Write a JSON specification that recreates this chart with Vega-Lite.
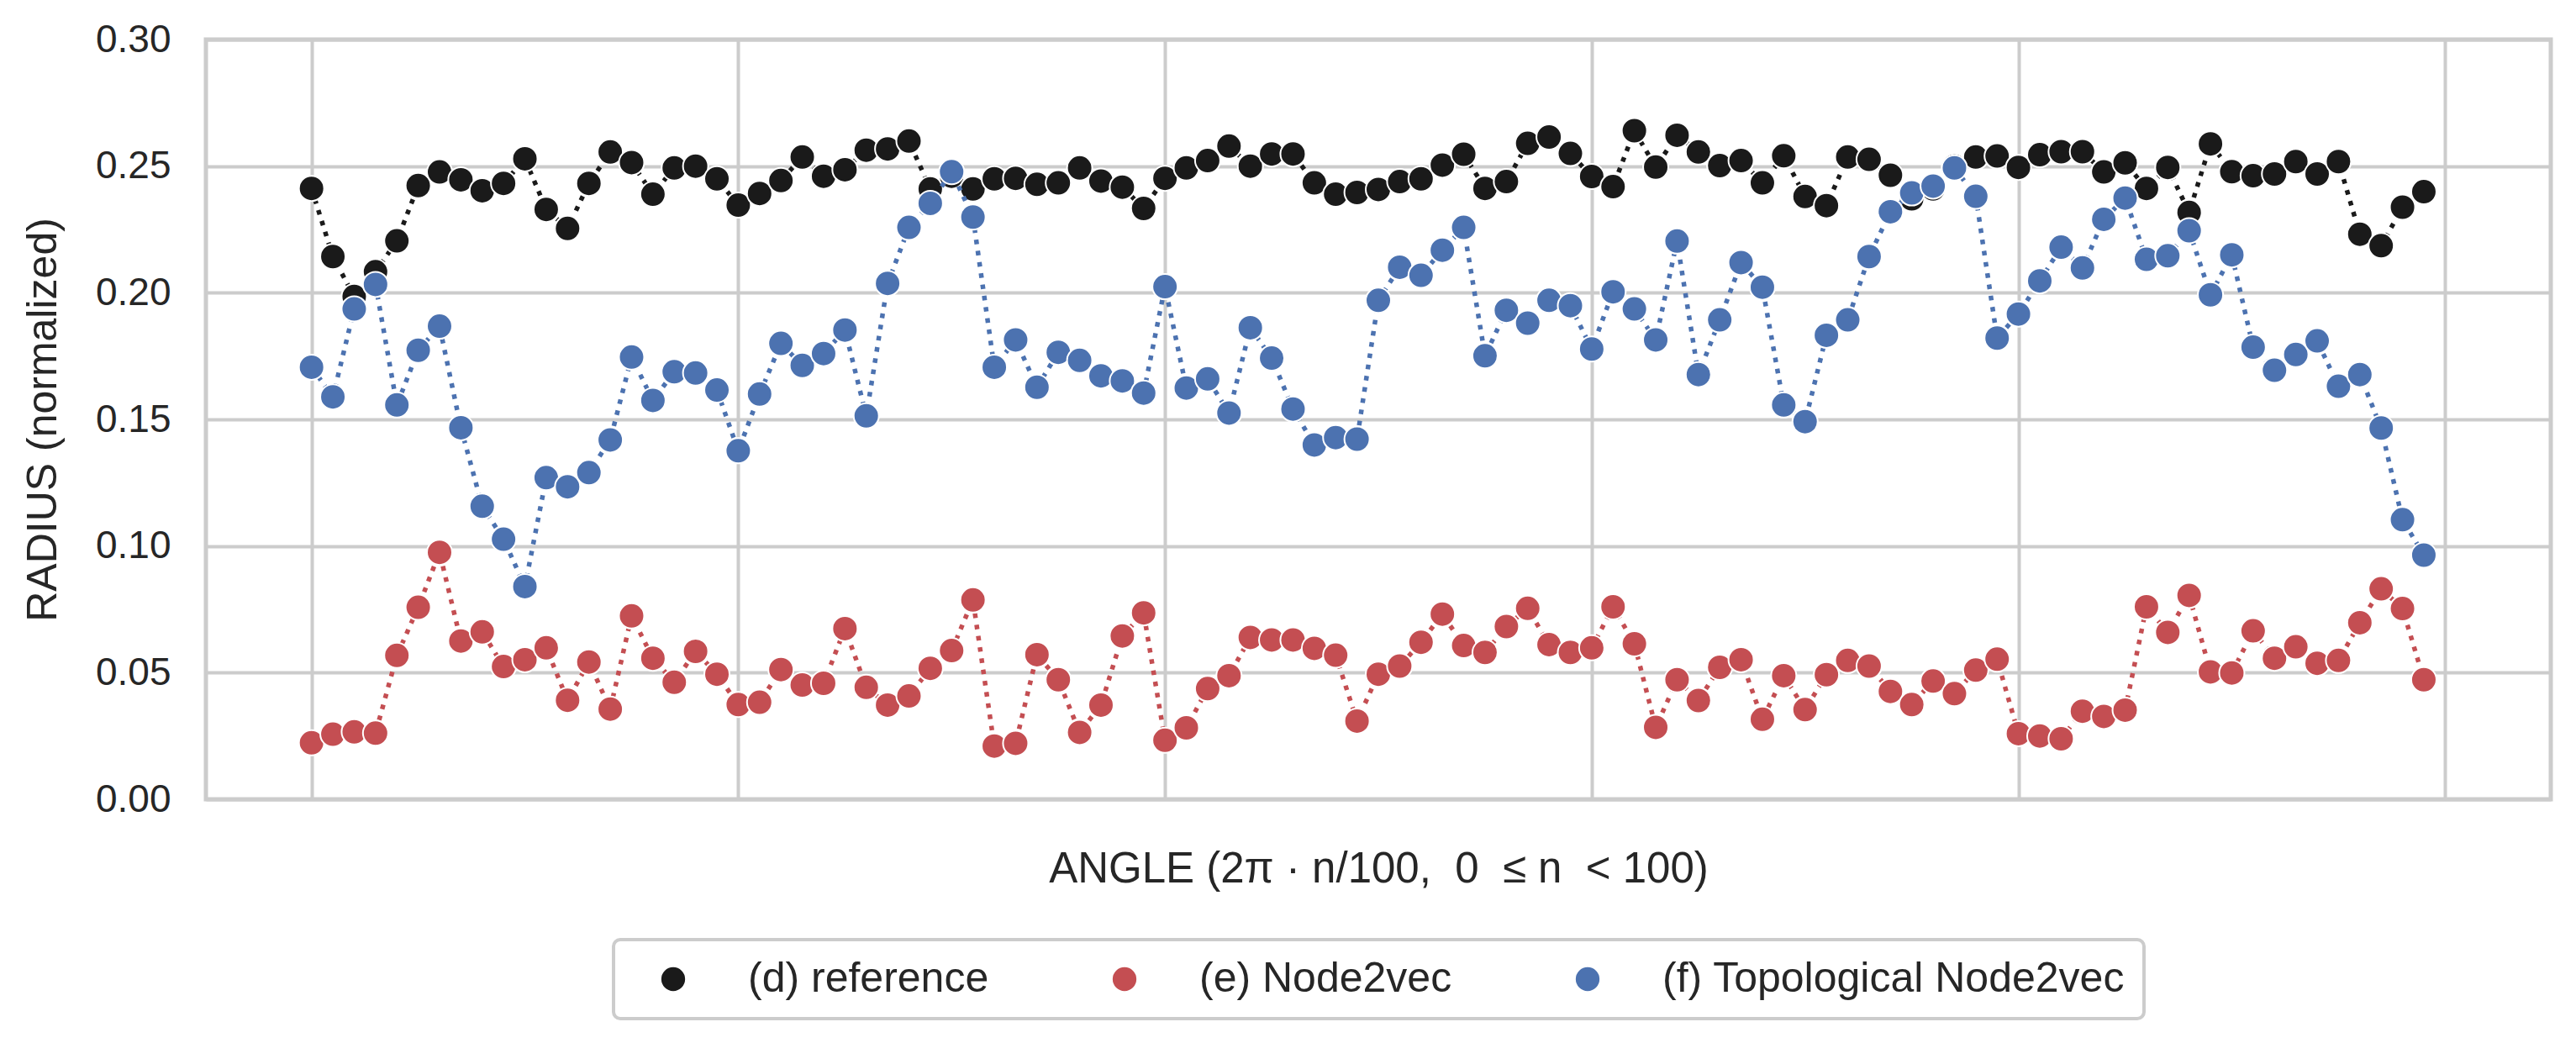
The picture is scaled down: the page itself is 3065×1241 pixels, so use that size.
{
  "$schema": "https://vega.github.io/schema/vega-lite/v6.json",
  "width": 2790,
  "height": 904,
  "autosize": {"type": "none"},
  "padding": {"left": 245, "top": 47, "right": 30, "bottom": 290},
  "background": "white",
  "datasets": {
    "ref": [
      {"n":0,"r":0.2412},{"n":1,"r":0.2143},{"n":2,"r":0.1985},{"n":3,"r":0.2083},{"n":4,"r":0.2205},{"n":5,"r":0.2423},{"n":6,"r":0.2477},{"n":7,"r":0.2446},{"n":8,"r":0.2403},{"n":9,"r":0.2432},
      {"n":10,"r":0.2529},{"n":11,"r":0.2329},{"n":12,"r":0.2254},{"n":13,"r":0.2432},{"n":14,"r":0.2556},{"n":15,"r":0.2514},{"n":16,"r":0.2389},{"n":17,"r":0.2493},{"n":18,"r":0.2500},{"n":19,"r":0.2450},
      {"n":20,"r":0.2346},{"n":21,"r":0.2392},{"n":22,"r":0.2443},{"n":23,"r":0.2536},{"n":24,"r":0.2460},{"n":25,"r":0.2486},{"n":26,"r":0.2563},{"n":27,"r":0.2568},{"n":28,"r":0.2599},{"n":29,"r":0.2410},
      {"n":30,"r":0.2460},{"n":31,"r":0.2410},{"n":32,"r":0.2450},{"n":33,"r":0.2452},{"n":34,"r":0.2428},{"n":35,"r":0.2434},{"n":36,"r":0.2493},{"n":37,"r":0.2441},{"n":38,"r":0.2417},{"n":39,"r":0.2333},
      {"n":40,"r":0.2452},{"n":41,"r":0.2493},{"n":42,"r":0.2522},{"n":43,"r":0.2579},{"n":44,"r":0.2500},{"n":45,"r":0.2548},{"n":46,"r":0.2548},{"n":47,"r":0.2434},{"n":48,"r":0.2389},{"n":49,"r":0.2396},
      {"n":50,"r":0.2408},{"n":51,"r":0.2439},{"n":52,"r":0.2450},{"n":53,"r":0.2504},{"n":54,"r":0.2547},{"n":55,"r":0.2412},{"n":56,"r":0.2439},{"n":57,"r":0.2590},{"n":58,"r":0.2615},{"n":59,"r":0.2550},
      {"n":60,"r":0.2459},{"n":61,"r":0.2419},{"n":62,"r":0.2640},{"n":63,"r":0.2496},{"n":64,"r":0.2622},{"n":65,"r":0.2556},{"n":66,"r":0.2502},{"n":67,"r":0.2522},{"n":68,"r":0.2434},{"n":69,"r":0.2541},
      {"n":70,"r":0.2380},{"n":71,"r":0.2344},{"n":72,"r":0.2536},{"n":73,"r":0.2527},{"n":74,"r":0.2464},{"n":75,"r":0.2371},{"n":76,"r":0.2410},{"n":77,"r":0.2500},{"n":78,"r":0.2536},{"n":79,"r":0.2540},
      {"n":80,"r":0.2495},{"n":81,"r":0.2545},{"n":82,"r":0.2557},{"n":83,"r":0.2557},{"n":84,"r":0.2477},{"n":85,"r":0.2513},{"n":86,"r":0.2412},{"n":87,"r":0.2495},{"n":88,"r":0.2317},{"n":89,"r":0.2588},
      {"n":90,"r":0.2478},{"n":91,"r":0.2462},{"n":92,"r":0.2469},{"n":93,"r":0.2518},{"n":94,"r":0.2469},{"n":95,"r":0.2518},{"n":96,"r":0.2231},{"n":97,"r":0.2186},{"n":98,"r":0.2338},{"n":99,"r":0.2399}
    ],
    "n2v": [
      {"n":0,"r":0.0223},{"n":1,"r":0.0257},{"n":2,"r":0.0266},{"n":3,"r":0.0261},{"n":4,"r":0.0568},{"n":5,"r":0.0758},{"n":6,"r":0.0975},{"n":7,"r":0.0625},{"n":8,"r":0.0661},{"n":9,"r":0.0524},
      {"n":10,"r":0.0551},{"n":11,"r":0.0598},{"n":12,"r":0.0391},{"n":13,"r":0.0542},{"n":14,"r":0.0356},{"n":15,"r":0.0724},{"n":16,"r":0.0557},{"n":17,"r":0.0462},{"n":18,"r":0.0584},{"n":19,"r":0.0494},
      {"n":20,"r":0.0374},{"n":21,"r":0.0383},{"n":22,"r":0.0512},{"n":23,"r":0.0451},{"n":24,"r":0.0458},{"n":25,"r":0.0674},{"n":26,"r":0.0442},{"n":27,"r":0.0372},{"n":28,"r":0.0408},{"n":29,"r":0.0517},
      {"n":30,"r":0.0587},{"n":31,"r":0.0787},{"n":32,"r":0.0210},{"n":33,"r":0.0221},{"n":34,"r":0.0571},{"n":35,"r":0.0472},{"n":36,"r":0.0264},{"n":37,"r":0.0372},{"n":38,"r":0.0645},{"n":39,"r":0.0736},
      {"n":40,"r":0.0233},{"n":41,"r":0.0282},{"n":42,"r":0.0437},{"n":43,"r":0.0488},{"n":44,"r":0.0639},{"n":45,"r":0.0629},{"n":46,"r":0.0629},{"n":47,"r":0.0596},{"n":48,"r":0.0569},{"n":49,"r":0.0309},
      {"n":50,"r":0.0494},{"n":51,"r":0.0526},{"n":52,"r":0.0620},{"n":53,"r":0.0731},{"n":54,"r":0.0607},{"n":55,"r":0.0580},{"n":56,"r":0.0682},{"n":57,"r":0.0754},{"n":58,"r":0.0611},{"n":59,"r":0.0580},
      {"n":60,"r":0.0598},{"n":61,"r":0.0760},{"n":62,"r":0.0614},{"n":63,"r":0.0284},{"n":64,"r":0.0472},{"n":65,"r":0.0390},{"n":66,"r":0.0521},{"n":67,"r":0.0551},{"n":68,"r":0.0316},{"n":69,"r":0.0488},
      {"n":70,"r":0.0354},{"n":71,"r":0.0492},{"n":72,"r":0.0548},{"n":73,"r":0.0526},{"n":74,"r":0.0426},{"n":75,"r":0.0374},{"n":76,"r":0.0467},{"n":77,"r":0.0417},{"n":78,"r":0.0510},{"n":79,"r":0.0553},
      {"n":80,"r":0.0259},{"n":81,"r":0.0250},{"n":82,"r":0.0239},{"n":83,"r":0.0348},{"n":84,"r":0.0327},{"n":85,"r":0.0352},{"n":86,"r":0.0760},{"n":87,"r":0.0659},{"n":88,"r":0.0805},{"n":89,"r":0.0503},
      {"n":90,"r":0.0499},{"n":91,"r":0.0665},{"n":92,"r":0.0557},{"n":93,"r":0.0602},{"n":94,"r":0.0537},{"n":95,"r":0.0548},{"n":96,"r":0.0697},{"n":97,"r":0.0831},{"n":98,"r":0.0753},{"n":99,"r":0.0472}
    ],
    "topo": [
      {"n":0,"r":0.1706},{"n":1,"r":0.1589},{"n":2,"r":0.1936},{"n":3,"r":0.2033},{"n":4,"r":0.1557},{"n":5,"r":0.1773},{"n":6,"r":0.1868},{"n":7,"r":0.1467},{"n":8,"r":0.1157},{"n":9,"r":0.1027},
      {"n":10,"r":0.0840},{"n":11,"r":0.1270},{"n":12,"r":0.1234},{"n":13,"r":0.1290},{"n":14,"r":0.1419},{"n":15,"r":0.1746},{"n":16,"r":0.1575},{"n":17,"r":0.1688},{"n":18,"r":0.1683},{"n":19,"r":0.1616},
      {"n":20,"r":0.1376},{"n":21,"r":0.1600},{"n":22,"r":0.1800},{"n":23,"r":0.1713},{"n":24,"r":0.1760},{"n":25,"r":0.1853},{"n":26,"r":0.1514},{"n":27,"r":0.2037},{"n":28,"r":0.2258},{"n":29,"r":0.2353},
      {"n":30,"r":0.2478},{"n":31,"r":0.2299},{"n":32,"r":0.1706},{"n":33,"r":0.1814},{"n":34,"r":0.1627},{"n":35,"r":0.1765},{"n":36,"r":0.1733},{"n":37,"r":0.1672},{"n":38,"r":0.1652},{"n":39,"r":0.1604},
      {"n":40,"r":0.2024},{"n":41,"r":0.1624},{"n":42,"r":0.1660},{"n":43,"r":0.1525},{"n":44,"r":0.1862},{"n":45,"r":0.1742},{"n":46,"r":0.1541},{"n":47,"r":0.1399},{"n":48,"r":0.1428},{"n":49,"r":0.1422},
      {"n":50,"r":0.1970},{"n":51,"r":0.2101},{"n":52,"r":0.2069},{"n":53,"r":0.2168},{"n":54,"r":0.2258},{"n":55,"r":0.1751},{"n":56,"r":0.1931},{"n":57,"r":0.1880},{"n":58,"r":0.1970},{"n":59,"r":0.1949},
      {"n":60,"r":0.1778},{"n":61,"r":0.2004},{"n":62,"r":0.1936},{"n":63,"r":0.1814},{"n":64,"r":0.2204},{"n":65,"r":0.1677},{"n":66,"r":0.1893},{"n":67,"r":0.2119},{"n":68,"r":0.2022},{"n":69,"r":0.1557},
      {"n":70,"r":0.1491},{"n":71,"r":0.1832},{"n":72,"r":0.1893},{"n":73,"r":0.2143},{"n":74,"r":0.2320},{"n":75,"r":0.2394},{"n":76,"r":0.2421},{"n":77,"r":0.2493},{"n":78,"r":0.2381},{"n":79,"r":0.1821},
      {"n":80,"r":0.1916},{"n":81,"r":0.2047},{"n":82,"r":0.2180},{"n":83,"r":0.2098},{"n":84,"r":0.2290},{"n":85,"r":0.2374},{"n":86,"r":0.2132},{"n":87,"r":0.2146},{"n":88,"r":0.2245},{"n":89,"r":0.1992},
      {"n":90,"r":0.2150},{"n":91,"r":0.1785},{"n":92,"r":0.1694},{"n":93,"r":0.1756},{"n":94,"r":0.1810},{"n":95,"r":0.1631},{"n":96,"r":0.1677},{"n":97,"r":0.1466},{"n":98,"r":0.1104},{"n":99,"r":0.0964}
    ]
  },
  "encoding": {
    "x": {
      "field": "n", "type": "quantitative",
      "scale": {"domain": [-4.95, 104.95], "nice": false, "zero": false},
      "axis": {
        "values": [0, 20, 40, 60, 80, 100],
        "labels": false, "ticks": false, "domain": false,
        "title": "ANGLE (2π · n/100,\u00a0 0\u00a0 ≤ n\u00a0 < 100)",
        "titleFontSize": 51, "titlePadding": 58
      }
    },
    "y": {
      "field": "r", "type": "quantitative",
      "scale": {"domain": [0, 0.3], "nice": false, "zero": true},
      "axis": {
        "values": [0, 0.05, 0.1, 0.15, 0.2, 0.25, 0.3],
        "format": ".2f",
        "ticks": false, "domain": false,
        "labelFontSize": 46, "labelPadding": 42,
        "title": "RADIUS (normalized)",
        "titleFontSize": 50, "titlePadding": 37
      }
    }
  },
  "layer": [
    {"data": {"name": "ref"}, "mark": {"type": "line", "color": "#1a1a1a", "strokeWidth": 5.5, "strokeDash": [5.5, 8], "strokeCap": "butt"}},
    {"data": {"name": "ref"}, "mark": {"type": "point", "filled": true, "size": 900, "stroke": "white", "strokeWidth": 2, "opacity": 1},
     "encoding": {"color": {"datum": "(d) reference", "type": "nominal"}}},
    {"data": {"name": "n2v"}, "mark": {"type": "line", "color": "#c44e52", "strokeWidth": 5.5, "strokeDash": [5.5, 8], "strokeCap": "butt"}},
    {"data": {"name": "n2v"}, "mark": {"type": "point", "filled": true, "size": 900, "stroke": "white", "strokeWidth": 2, "opacity": 1},
     "encoding": {"color": {"datum": "(e) Node2vec", "type": "nominal"}}},
    {"data": {"name": "topo"}, "mark": {"type": "line", "color": "#4c72b0", "strokeWidth": 5.5, "strokeDash": [5.5, 8], "strokeCap": "butt"}},
    {"data": {"name": "topo"}, "mark": {"type": "point", "filled": true, "size": 900, "stroke": "white", "strokeWidth": 2, "opacity": 1},
     "encoding": {"color": {
       "datum": "(f) Topological Node2vec", "type": "nominal",
       "scale": {"domain": ["(d) reference", "(e) Node2vec", "(f) Topological Node2vec"], "range": ["#1a1a1a", "#c44e52", "#4c72b0"]},
       "legend": {
         "title": null, "orient": "none", "legendX": 485, "legendY": 1071,
         "direction": "horizontal", "padding": 22,
         "strokeColor": "#cccccc", "fillColor": "white", "cornerRadius": 8,
         "symbolType": "circle", "symbolSize": 800, "symbolStrokeWidth": 0, "symbolOpacity": 1,
         "symbolOffset": 24, "labelOffset": 64, "columnPadding": 112,
         "labelFontSize": 50, "labelFont": "Liberation Sans", "labelColor": "#262626", "labelLimit": 0
       }
     }}}
  ],
  "config": {
    "view": {"stroke": "#cccccc", "strokeWidth": 5},
    "axis": {
      "gridColor": "#cccccc", "gridWidth": 4, "gridOpacity": 1,
      "labelFont": "Liberation Sans", "titleFont": "Liberation Sans",
      "labelColor": "#262626", "titleColor": "#262626", "titleFontWeight": "normal"
    },
    "legend": {"strokeWidth": 4}
  }
}
